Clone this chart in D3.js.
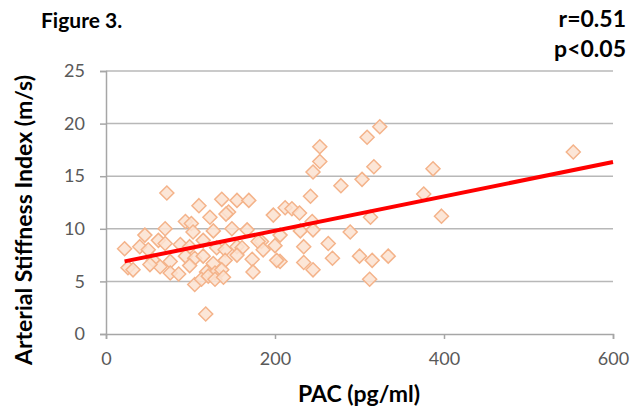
<!DOCTYPE html>
<html>
<head>
<meta charset="utf-8">
<script src="https://cdn.jsdelivr.net/npm/d3@7"></script>
<style>
  body { margin: 0; background: #fff; }
  text { font-family: Lato, "Noto Sans", sans-serif; }
</style>
</head>
<body>
<svg width="632" height="407"></svg>
<script>
// PAC (pg/ml) vs arterial stiffness index (m/s)
const pac = [324, 309, 253, 253, 245, 317, 303, 278, 387, 376, 397, 242, 198, 212, 220, 229, 313, 244,
  206, 230, 245, 289, 184, 200, 234, 263, 206, 234, 245, 268, 300, 315, 334, 312, 553,
  72, 110, 137, 155, 169, 123, 145, 142, 70, 94, 101, 103, 127, 149, 167, 46, 22, 40, 50, 62, 70,
  88, 99, 115, 131, 141, 155, 161, 180, 186, 56, 64, 76, 94, 105, 115, 127, 141, 155, 173,
  26, 32, 52, 76, 86, 99, 119, 129, 137, 174, 105, 113, 121, 129, 139, 118, 202];
const asi = [19.7, 18.7, 17.8, 16.4, 15.4, 15.9, 14.7, 14.1, 15.7, 13.3, 11.2, 13.1, 11.3, 12.0, 11.9, 11.5, 11.1, 10.7,
  9.4, 9.8, 9.9, 9.7, 8.8, 8.4, 8.3, 8.6, 6.9, 6.8, 6.1, 7.2, 7.4, 7.0, 7.4, 5.2, 17.3,
  13.4, 12.2, 12.8, 12.7, 12.7, 11.1, 11.6, 11.4, 10.0, 10.7, 10.5, 9.7, 9.8, 10.0, 9.9, 9.4, 8.1, 8.3, 8.0, 8.9, 8.6,
  8.5, 8.3, 8.9, 8.2, 8.0, 8.3, 8.2, 8.8, 8.0, 7.0, 6.4, 6.9, 7.4, 7.2, 7.4, 6.7, 7.0, 7.5, 7.1,
  6.3, 6.1, 6.6, 5.8, 5.7, 6.5, 5.9, 5.8, 6.1, 5.9, 4.7, 5.2, 5.5, 5.2, 5.4, 1.9, 7.0];

// fitted line ends
const fitX = [22, 600];
const fitY = [6.9, 16.35];

const xTicks = [0, 200, 400, 600];
const yTicks = [0, 5, 10, 15, 20, 25];

const svg = d3.select('svg');
const margin = {left: 106, right: 19, top: 71, bottom: 73};
const width = 632, height = 407;

const x = d3.scaleLinear().domain([0, 600]).range([margin.left, width - margin.right]);
const y = d3.scaleLinear().domain([0, 25]).range([height - margin.bottom, margin.top]);

// gridlines
svg.append('g')
  .selectAll('line')
  .data(yTicks.filter(d => d > 0))
  .join('line')
  .attr('x1', x(0)).attr('x2', x(600))
  .attr('y1', d => y(d)).attr('y2', d => y(d))
  .style('stroke', '#b8b8b8')
  .style('stroke-width', 1.5);

const yAxis = svg.append('g')
  .attr('transform', `translate(${x(0)},0)`)
  .call(d3.axisLeft(y).tickValues(yTicks).tickSize(6).tickPadding(15));

const xAxis = svg.append('g')
  .attr('transform', `translate(0,${y(0)})`)
  .call(d3.axisBottom(x).tickValues(xTicks).tickSize(5).tickPadding(13));

[xAxis, yAxis].forEach(g => {
  g.select('.domain').style('stroke', '#a6a6a6').style('stroke-width', 1.5);
  g.selectAll('.tick line').style('stroke', '#a6a6a6').style('stroke-width', 1.5);
  g.selectAll('.tick text')
    .style('font-family', 'Lato, sans-serif')
    .style('font-size', '18px')
    .style('fill', '#595959');
});

// points
const half = 7;
const diamond = `M0,${-half}L${half},0L0,${half}L${-half},0Z`;
svg.append('g')
  .selectAll('path')
  .data(pac.map((d, i) => [d, asi[i]]))
  .join('path')
  .attr('d', diamond)
  .attr('transform', d => `translate(${x(d[0])},${y(d[1])})`)
  .style('fill', '#fbe2d0')
  .style('fill-opacity', 0.85)
  .style('stroke', '#f4b38a')
  .style('stroke-width', 1.5);

// trend line
svg.append('path')
  .datum(fitX.map((d, i) => [d, fitY[i]]))
  .attr('d', d3.line().x(d => x(d[0])).y(d => y(d[1])))
  .style('stroke', '#ff0000')
  .style('stroke-width', 4)
  .style('fill', 'none');

// titles
svg.append('text')
  .attr('x', 41).attr('y', 28)
  .style('font-size', '21px').style('font-weight', 'bold')
  .text('Figure 3.');

svg.append('text')
  .attr('x', 626).attr('y', 27)
  .attr('text-anchor', 'end')
  .style('font-size', '23px').style('font-weight', 'bold')
  .text('r=0.51');

svg.append('text')
  .attr('x', 626).attr('y', 57)
  .attr('text-anchor', 'end')
  .style('font-size', '23px').style('font-weight', 'bold')
  .text('p<0.05');

svg.append('text')
  .attr('x', 359).attr('y', 402)
  .attr('text-anchor', 'middle')
  .style('font-size', '23px').style('font-weight', 'bold')
  .text('PAC (pg/ml)');

svg.append('text')
  .attr('transform', 'translate(32,220) rotate(-90)')
  .attr('text-anchor', 'middle')
  .style('font-size', '23px').style('font-weight', 'bold')
  .text('Arterial Stiffness Index (m/s)');
</script>
</body>
</html>
